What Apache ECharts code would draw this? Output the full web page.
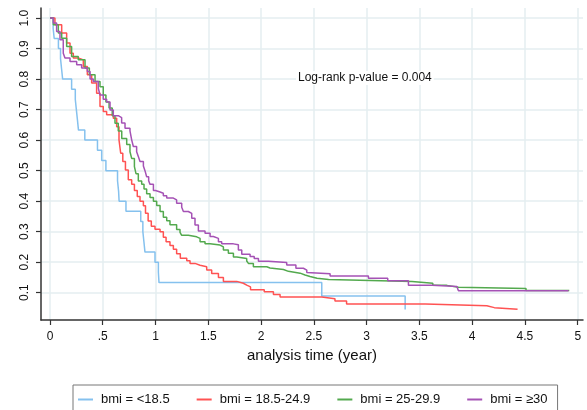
<!DOCTYPE html>
<html><head><meta charset="utf-8">
<script src="https://cdn.jsdelivr.net/npm/echarts@6/dist/echarts.min.js"></script>
<style>html,body{margin:0;padding:0;background:#fff}#c{width:587px;height:410px}</style>
</head><body><div id="c"></div>
<script>
const groupNames = ['bmi = <18.5', 'bmi = 18.5-24.9', 'bmi = 25-29.9', 'bmi = ≥30'];
const groupColors = ['#85c1ee', '#ff5252', '#53a94e', '#a552b5'];

const xTicks = [0, 0.5, 1, 1.5, 2, 2.5, 3, 3.5, 4, 4.5, 5];
const xTickLabels = ['0', '.5', '1', '1.5', '2', '2.5', '3', '3.5', '4', '4.5', '5'];
const yTicks = [0.1, 0.2, 0.3, 0.4, 0.5, 0.6, 0.7, 0.8, 0.9, 1.0];
const yTickLabels = ['0.1', '0.2', '0.3', '0.4', '0.5', '0.6', '0.7', '0.8', '0.9', '1.0'];

const tUnder185 = [0, 0.03, 0.04, 0.08, 0.10, 0.11, 0.12, 0.205, 0.24, 0.25, 0.26, 0.27, 0.33, 0.45, 0.49, 0.53, 0.64, 0.65, 0.655, 0.72, 0.86, 0.88, 0.89, 0.90, 0.995, 1.027, 1.033, 2.575, 3.365];
const sUnder185 = [1, 0.967, 0.933, 0.9, 0.867, 0.833, 0.8, 0.767, 0.733, 0.7, 0.667, 0.633, 0.6, 0.567, 0.533, 0.5, 0.467, 0.433, 0.4, 0.367, 0.333, 0.3, 0.267, 0.233, 0.2, 0.167, 0.133, 0.089, 0.045];

const tNormal = [0, 0.047, 0.111, 0.158, 0.19, 0.221, 0.268, 0.316, 0.354, 0.395, 0.442, 0.474, 0.505, 0.537, 0.6, 0.632, 0.654, 0.67, 0.69, 0.715, 0.742, 0.774, 0.80, 0.827, 0.853, 0.885, 0.905, 0.93, 0.96, 0.995, 1.043, 1.074, 1.10, 1.137, 1.169, 1.2, 1.235, 1.296, 1.327, 1.374, 1.422, 1.485, 1.532, 1.596, 1.643, 1.77, 1.832, 1.864, 1.9, 2.03, 2.117, 2.18, 2.575, 2.70, 2.81, 3.555, 4.139, 4.21, 4.43];
const sNormal = [1, 0.978, 0.951, 0.918, 0.885, 0.869, 0.863, 0.841, 0.814, 0.787, 0.754, 0.71, 0.694, 0.683, 0.672, 0.644, 0.601, 0.557, 0.53, 0.502, 0.47, 0.455, 0.435, 0.415, 0.4, 0.385, 0.36, 0.335, 0.318, 0.308, 0.3, 0.282, 0.267, 0.255, 0.242, 0.228, 0.213, 0.205, 0.196, 0.19, 0.185, 0.174, 0.163, 0.15, 0.137, 0.131, 0.125, 0.119, 0.11, 0.103, 0.094, 0.086, 0.08, 0.073, 0.063, 0.057, 0.051, 0.046, 0.046];

const tOver = [0, 0.032, 0.079, 0.111, 0.158, 0.205, 0.268, 0.332, 0.373, 0.427, 0.474, 0.505, 0.53, 0.56, 0.59, 0.616, 0.647, 0.68, 0.727, 0.758, 0.774, 0.80, 0.815, 0.837, 0.869, 0.891, 0.916, 0.948, 0.98, 1.011, 1.043, 1.074, 1.106, 1.137, 1.2, 1.232, 1.248, 1.311, 1.39, 1.422, 1.469, 1.517, 1.611, 1.643, 1.69, 1.738, 1.77, 1.864, 1.88, 1.927, 2.054, 2.085, 2.212, 2.259, 2.37, 2.417, 2.464, 2.53, 2.64, 3.43, 3.627, 3.76, 3.87, 4.51, 4.92];
const sOver = [1, 0.978, 0.951, 0.934, 0.907, 0.874, 0.863, 0.836, 0.814, 0.792, 0.775, 0.748, 0.725, 0.705, 0.68, 0.655, 0.63, 0.605, 0.586, 0.562, 0.54, 0.513, 0.49, 0.466, 0.455, 0.44, 0.424, 0.412, 0.4, 0.386, 0.366, 0.347, 0.336, 0.323, 0.307, 0.298, 0.288, 0.283, 0.278, 0.267, 0.26, 0.256, 0.25, 0.24, 0.229, 0.217, 0.212, 0.204, 0.196, 0.185, 0.181, 0.176, 0.17, 0.164, 0.158, 0.153, 0.147, 0.143, 0.137, 0.131, 0.124, 0.118, 0.114, 0.107, 0.107];

const tObese = [0, 0.032, 0.063, 0.095, 0.126, 0.142, 0.19, 0.253, 0.30, 0.354, 0.38, 0.41, 0.458, 0.474, 0.505, 0.537, 0.569, 0.6, 0.647, 0.679, 0.711, 0.758, 0.774, 0.79, 0.821, 0.837, 0.853, 0.885, 0.9, 0.916, 0.935, 0.948, 0.98, 1.0, 1.043, 1.074, 1.106, 1.169, 1.2, 1.248, 1.264, 1.311, 1.343, 1.374, 1.406, 1.469, 1.517, 1.548, 1.596, 1.627, 1.738, 1.785, 1.817, 1.896, 1.935, 1.975, 2.07, 2.243, 2.33, 2.401, 2.433, 2.448, 2.654, 3.017, 3.2, 3.396, 3.62, 3.855, 3.87, 4.913];
const sObese = [1, 0.984, 0.956, 0.929, 0.885, 0.869, 0.858, 0.847, 0.836, 0.825, 0.80, 0.792, 0.77, 0.748, 0.734, 0.725, 0.699, 0.68, 0.674, 0.656, 0.639, 0.63, 0.601, 0.579, 0.562, 0.546, 0.53, 0.515, 0.50, 0.48, 0.467, 0.455, 0.435, 0.43, 0.426, 0.418, 0.41, 0.404, 0.393, 0.38, 0.366, 0.36, 0.344, 0.322, 0.302, 0.295, 0.284, 0.278, 0.267, 0.26, 0.257, 0.24, 0.226, 0.219, 0.212, 0.203, 0.199, 0.191, 0.18, 0.174, 0.166, 0.162, 0.155, 0.147, 0.139, 0.124, 0.12, 0.114, 0.106, 0.106];

const pText = 'Log-rank p-value = 0.004';
const xTitle = 'analysis time (year)';

const groupTimes = [tUnder185, tNormal, tOver, tObese];
const groupSurv = [sUnder185, sNormal, sOver, sObese];

const FONT = '"Liberation Sans", Arial, sans-serif';
function lookup(vals, labels, v) {
  for (let i = 0; i < vals.length; i++) if (Math.abs(vals[i] - v) < 1e-6) return labels[i];
  return '';
}

const chart = echarts.init(document.getElementById('c'), null, { renderer: 'canvas' });
chart.setOption({
  animation: false,
  backgroundColor: '#fff',
  grid: { left: 41, right: 4, top: 8, bottom: 90, containLabel: false, outerBoundsMode: 'none' },
  xAxis: {
    type: 'value', min: -0.085, max: 5.05,
    name: xTitle, nameLocation: 'middle', nameGap: 27,
    nameTextStyle: { fontFamily: FONT, fontSize: 15, color: '#111' },
    axisLine: { show: true, onZero: false, lineStyle: { color: '#333', width: 1.5 } },
    axisTick: { show: true, length: 5, customValues: xTicks, lineStyle: { color: '#333', width: 1.2 } },
    axisLabel: { customValues: xTicks, margin: 11, fontFamily: FONT, fontSize: 12, color: '#111',
      formatter: v => lookup(xTicks, xTickLabels, v) },
    splitLine: { show: true, lineStyle: { color: '#e4eef1', width: 1.5 } }
  },
  yAxis: {
    type: 'value', min: 0.0105, max: 1.033,
    axisLine: { show: true, onZero: false, lineStyle: { color: '#333', width: 1.5 } },
    axisTick: { show: true, length: 5, customValues: yTicks, lineStyle: { color: '#333', width: 1.2 } },
    axisLabel: { customValues: yTicks, rotate: 90, margin: 10, fontFamily: FONT, fontSize: 12, color: '#111',
      formatter: v => lookup(yTicks, yTickLabels, v) },
    splitLine: { show: true, lineStyle: { color: '#e4eef1', width: 1.5 } }
  },
  legend: {
    left: 73, top: 385,
    padding: [8, 10, 8, 5],
    borderColor: '#777', borderWidth: 1,
    itemWidth: 15, itemHeight: 2, itemGap: 27,
    icon: 'rect',
    textStyle: { fontFamily: FONT, fontSize: 13, color: '#111', padding: [0, 0, 0, 3] },
    data: groupNames.map((n, i) => ({ name: n, itemStyle: { color: groupColors[i] } }))
  },
  graphic: [{
    type: 'text', left: 296, top: 71, z: 10,
    style: { text: pText, font: '12px ' + FONT, fill: '#111', backgroundColor: '#fff', padding: [1, 2, 1, 2] }
  }],
  series: groupNames.map((n, i) => ({
    name: n, type: 'line', step: 'end', showSymbol: false, symbol: 'none',
    color: groupColors[i],
    lineStyle: { width: 1.5, color: groupColors[i] },
    data: groupTimes[i].map((t, j) => [t, groupSurv[i][j]])
  }))
});
</script></body></html>
